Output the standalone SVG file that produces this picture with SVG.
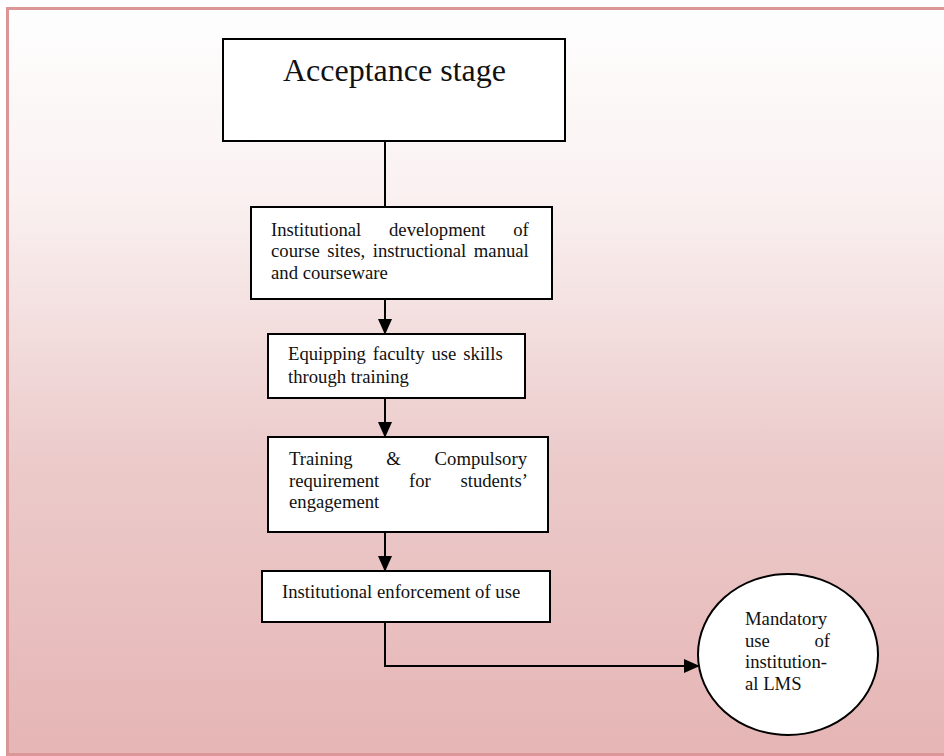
<svg xmlns="http://www.w3.org/2000/svg" width="944" height="756" viewBox="0 0 944 756">
<defs>
<linearGradient id="bg" x1="0" y1="0" x2="0" y2="1">
<stop offset="0" stop-color="#fefefe"/>
<stop offset="0.25" stop-color="#faf1f1"/>
<stop offset="0.6" stop-color="#eccbcb"/>
<stop offset="1" stop-color="#e6b5b5"/>
</linearGradient>
<marker id="ah" markerWidth="16" markerHeight="18" refX="16" refY="8" orient="auto" markerUnits="userSpaceOnUse" viewBox="0 0 18 16">
<path d="M0,0 L18,8 L0,16 Z" fill="#000"/>
</marker>
</defs>
<style>
.box{fill:#fff;stroke:#000;stroke-width:2}
.t{font-family:"Liberation Serif","Times New Roman",serif;font-size:18.7px;fill:#111}
.conn{fill:none;stroke:#000;stroke-width:2}
</style>
<rect x="7.5" y="8.5" width="960" height="746" fill="url(#bg)" stroke="#db9797" stroke-width="3"/>
<g id="connectors">
<line class="conn" x1="385" y1="141" x2="385" y2="207"/>
<line class="conn" x1="385" y1="299" x2="385" y2="333" marker-end="url(#ah)"/>
<line class="conn" x1="385" y1="398" x2="385" y2="436" marker-end="url(#ah)"/>
<line class="conn" x1="385" y1="532" x2="385" y2="570" marker-end="url(#ah)"/>
<polyline class="conn" points="385,622 385,666 698,666" marker-end="url(#ah)"/>
</g>
<g id="acceptance">
<rect class="box" x="223" y="39" width="342" height="102"/>
<text x="283" y="81" font-family="Liberation Serif, Times New Roman, serif" font-size="32" fill="#111">Acceptance stage</text>
</g>
<g id="development">
<rect class="box" x="251" y="207" width="301" height="92"/>
<text class="t" x="271" y="236" word-spacing="23">Institutional development of</text>
<text class="t" x="271" y="257" word-spacing="2.9">course sites, instructional manual</text>
<text class="t" x="271" y="279">and courseware</text>
</g>
<g id="equipping">
<rect class="box" x="268" y="334" width="257" height="64"/>
<text class="t" x="288" y="360" word-spacing="2.2">Equipping faculty use skills</text>
<text class="t" x="288" y="383">through training</text>
</g>
<g id="training">
<rect class="box" x="268" y="437" width="280" height="95"/>
<text class="t" x="289" y="465" word-spacing="29">Training &amp; Compulsory</text>
<text class="t" x="289" y="487" word-spacing="25">requirement for students’</text>
<text class="t" x="289" y="508">engagement</text>
</g>
<g id="enforcement">
<rect class="box" x="262" y="571" width="288" height="51"/>
<text class="t" x="282" y="598">Institutional enforcement of use</text>
</g>
<g id="mandatory">
<ellipse cx="788" cy="654.5" rx="90" ry="80.5" fill="#fff" stroke="#000" stroke-width="2"/>
<text class="t" x="745" y="625">Mandatory</text>
<text class="t" x="745" y="647" word-spacing="39.8">use of</text>
<text class="t" x="745" y="668">institution-</text>
<text class="t" x="745" y="690">al LMS</text>
</g>
</svg>
